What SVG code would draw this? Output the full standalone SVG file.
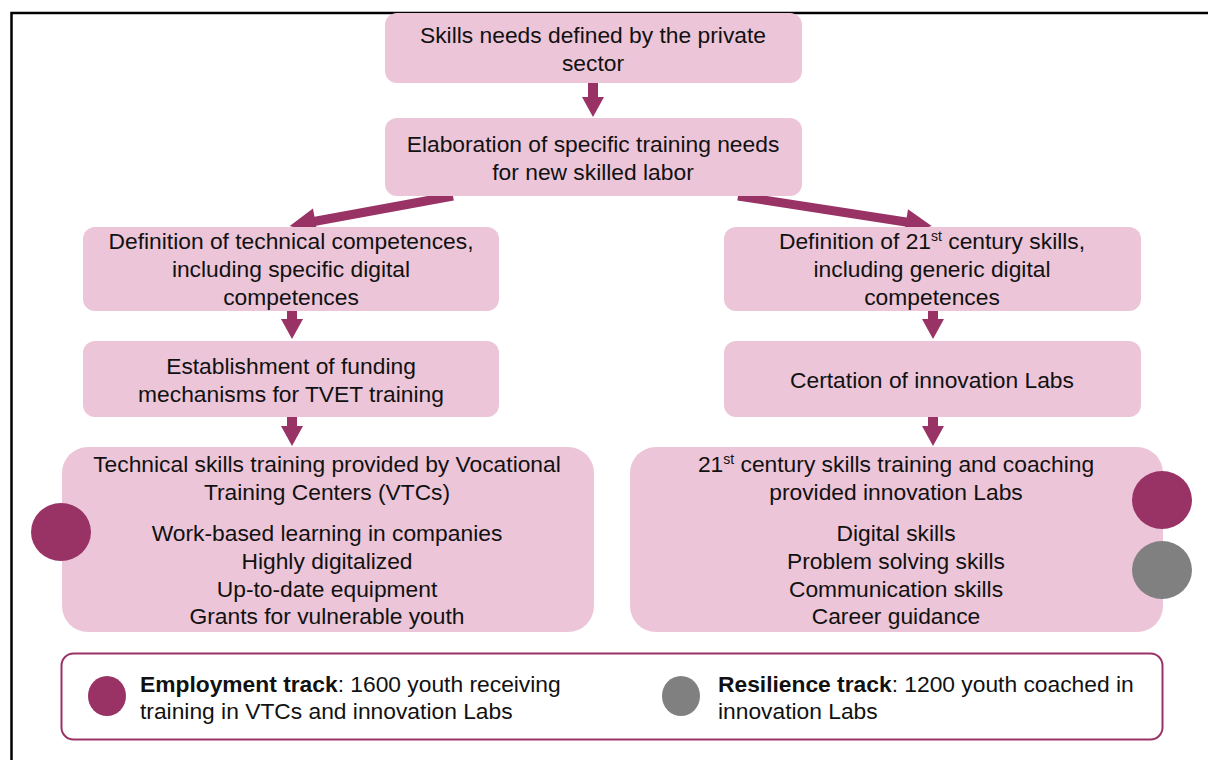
<svg xmlns="http://www.w3.org/2000/svg" width="1208" height="760" viewBox="0 0 1208 760">
<style>
.box{fill:#ecc5d8;}
.t{font-family:"Liberation Sans",Arial,sans-serif;font-size:22.8px;fill:#111;text-anchor:middle;}
.l{font-family:"Liberation Sans",Arial,sans-serif;font-size:22.8px;fill:#111;}
.sup{font-size:14px;}
.arr{fill:#993366;}
.mag{fill:#993366;}
.gry{fill:#808080;}
</style>
<rect width="1208" height="760" fill="#fff"/>
<g id="frame" fill="none" stroke="#000" stroke-width="2.5">
<path d="M11.5 760 V13 H1208"/>
</g>
<g id="connectors">
<polygon class="arr" points="588,83 598,83 598,97 604,97 593,117 582,97 588,97"/>
<polygon class="arr" transform="translate(453,196) rotate(169.6)" points="0,-4.5 140,-4.5 140,-13 166,0 140,13 140,4.5 0,4.5"/>
<polygon class="arr" transform="translate(738,196) rotate(8.8)" points="0,-4.5 170,-4.5 170,-13 196,0 170,13 170,4.5 0,4.5"/>
<polygon class="arr" points="287,311 297,311 297,319 303,319 292,339 281,319 287,319"/>
<polygon class="arr" points="928,311 938,311 938,319 944,319 933,339 922,319 928,319"/>
<polygon class="arr" points="287,417 297,417 297,426 303,426 292,446 281,426 287,426"/>
<polygon class="arr" points="928,417 938,417 938,426 944,426 933,446 922,426 928,426"/>
</g>
<g id="n1">
<rect class="box" x="385" y="13" width="417" height="70" rx="12"/>
<text class="t" x="593" y="43">Skills needs defined by the private</text>
<text class="t" x="593" y="71">sector</text>
</g>
<g id="n2">
<rect class="box" x="385" y="118" width="417" height="78" rx="12"/>
<text class="t" x="593" y="152">Elaboration of specific training needs</text>
<text class="t" x="593" y="180">for new skilled labor</text>
</g>
<g id="n3">
<rect class="box" x="83" y="227" width="416" height="84" rx="12"/>
<text class="t" x="291" y="249">Definition of technical competences,</text>
<text class="t" x="291" y="277">including specific digital</text>
<text class="t" x="291" y="305">competences</text>
</g>
<g id="n4">
<rect class="box" x="724" y="227" width="417" height="84" rx="12"/>
<text class="t" x="932" y="249">Definition of 21<tspan class="sup" dy="-8">st</tspan><tspan dy="8"> century skills,</tspan></text>
<text class="t" x="932" y="277">including generic digital</text>
<text class="t" x="932" y="305">competences</text>
</g>
<g id="n5">
<rect class="box" x="83" y="341" width="416" height="76" rx="12"/>
<text class="t" x="291" y="374">Establishment of funding</text>
<text class="t" x="291" y="402">mechanisms for TVET training</text>
</g>
<g id="n6">
<rect class="box" x="724" y="341" width="417" height="76" rx="12"/>
<text class="t" x="932" y="388">Certation of innovation Labs</text>
</g>
<g id="n7">
<rect class="box" x="62" y="447" width="532" height="185" rx="26"/>
<text class="t" x="327" y="472">Technical skills training provided by Vocational</text>
<text class="t" x="327" y="500">Training Centers (VTCs)</text>
<text class="t" x="327" y="541">Work-based learning in companies</text>
<text class="t" x="327" y="569">Highly digitalized</text>
<text class="t" x="327" y="597">Up-to-date equipment</text>
<text class="t" x="327" y="624">Grants for vulnerable youth</text>
<ellipse class="mag" cx="61" cy="532" rx="30" ry="29"/>
</g>
<g id="n8">
<rect class="box" x="630" y="447" width="533" height="185" rx="26"/>
<text class="t" x="896" y="472">21<tspan class="sup" dy="-8">st</tspan><tspan dy="8"> century skills training and coaching</tspan></text>
<text class="t" x="896" y="500">provided innovation Labs</text>
<text class="t" x="896" y="541">Digital skills</text>
<text class="t" x="896" y="569">Problem solving skills</text>
<text class="t" x="896" y="597">Communication skills</text>
<text class="t" x="896" y="624">Career guidance</text>
<ellipse class="mag" cx="1162" cy="500" rx="30" ry="29"/>
<ellipse class="gry" cx="1162" cy="570" rx="30" ry="29"/>
</g>
<g id="legend">
<rect x="61.5" y="653.5" width="1101" height="86" rx="12" fill="#fff" stroke="#993366" stroke-width="2"/>
<ellipse class="mag" cx="107" cy="696" rx="19" ry="20"/>
<text class="l" x="140" y="692"><tspan font-weight="bold">Employment track</tspan>: 1600 youth receiving</text>
<text class="l" x="140" y="719">training in VTCs and innovation Labs</text>
<ellipse class="gry" cx="681" cy="696" rx="19" ry="20"/>
<text class="l" x="718" y="692"><tspan font-weight="bold">Resilience track</tspan>: 1200 youth coached in</text>
<text class="l" x="718" y="719">innovation Labs</text>
</g>
</svg>
